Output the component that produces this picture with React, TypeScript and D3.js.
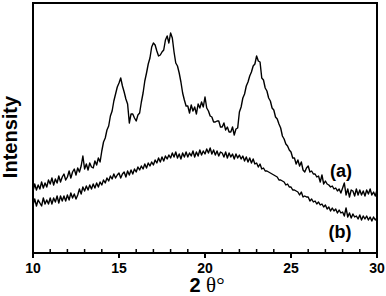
import React from "react";
import * as d3 from "d3";

// 2θ from 10 to 30 in 0.1° steps
const xStart = 10;
const xStep = 0.1;

const seriesA: number[] = [
  62, 69, 63, 68, 64, 71, 65, 70, 66, 73,
  69, 75, 68, 74, 70, 77, 71, 76, 79, 73,
  76, 82, 75, 81, 84, 78, 85, 81, 87, 97,
  84, 89, 83, 90, 86, 85, 92, 88, 95, 91,
  102, 111, 115, 123, 127, 137, 142, 152, 159, 166,
  170, 175, 167, 161, 154, 149, 130, 139, 139, 135,
  132, 138, 140, 151, 160, 172, 180, 189, 195, 206,
  210, 208, 202, 197, 198, 201, 203, 213, 217, 210,
  220, 215, 201, 190, 187, 180, 171, 160, 153, 147,
  147, 140, 148, 142, 146, 139, 149, 145, 151, 146,
  156, 145, 142, 137, 136, 131, 131, 132, 132, 126,
  126, 130, 123, 126, 121, 121, 126, 118, 124, 125,
  141, 146, 155, 159, 167, 171, 177, 181, 187, 189,
  197, 192, 191, 175, 173, 165, 162, 155, 152, 145,
  143, 136, 134, 129, 125, 117, 114, 109, 107, 103,
  101, 95, 95, 89, 93, 87, 91, 83, 81, 85,
  87, 81, 82, 79, 79, 76, 77, 71, 78, 69,
  72, 69, 68, 66, 67, 64, 65, 62, 64, 60,
  65, 70, 58, 64, 56, 63, 62, 57, 64, 58,
  63, 58, 62, 57, 63, 59, 64, 58, 61, 57,
  63,
];

const seriesB: number[] = [
  48, 54, 47, 53, 50, 47, 55, 49, 53, 49,
  55, 49, 55, 51, 57, 50, 57, 52, 57, 52,
  58, 53, 60, 55, 59, 54, 58, 64, 59, 66,
  62, 67, 63, 68, 64, 69, 65, 70, 66, 71,
  68, 73, 70, 75, 72, 77, 74, 79, 75, 78,
  80, 75, 79, 81, 76, 82, 78, 83, 79, 84,
  81, 86, 83, 87, 84, 89, 85, 90, 87, 91,
  88, 93, 90, 95, 91, 96, 92, 97, 94, 98,
  95, 100, 96, 101, 95, 99, 94, 100, 96, 101,
  96, 100, 97, 102, 96, 101, 97, 103, 98, 102,
  99, 104, 100, 105, 99, 103, 98, 102, 97, 101,
  100, 96, 101, 95, 100, 96, 99, 94, 99, 95,
  98, 94, 97, 92, 96, 91, 95, 90, 94, 89,
  90, 86, 89, 84, 85, 82, 82, 81, 80, 79,
  78, 77, 76, 73, 73, 72, 71, 68, 69, 66,
  66, 63, 63, 62, 61, 58, 61, 56, 57, 56,
  56, 52, 54, 51, 52, 49, 51, 48, 49, 46,
  48, 44, 46, 42, 45, 42, 44, 40, 43, 40,
  41, 37, 45, 36, 40, 35, 39, 36, 37, 34,
  38, 33, 37, 34, 37, 33, 36, 32, 36, 33,
  35,
];

const majorTicks = [10, 15, 20, 25, 30];
const minorTicks = d3.range(11, 30).filter((v) => v % 5 !== 0);

const W = 386;
const H = 296;
const left = 33;
const right = 377;
const top = 3;
const bottom = 253;

export default function App() {
  const x = d3.scaleLinear().domain([10, 30]).range([left, right]);
  const y = d3.scaleLinear().domain([0, 250]).range([bottom, top]);
  const line = d3
    .line<number>()
    .x((_, i) => x(xStart + i * xStep))
    .y((d) => y(d));

  return (
    <svg
      width={W}
      height={H}
      style={{ position: "absolute", left: 0, top: 0, background: "#fff" }}
      fontFamily="'Liberation Sans', Arial, sans-serif"
    >
      <rect x={0} y={0} width={W} height={H} fill="#fff" />
      <path d={line(seriesA) || ""} fill="none" stroke="#000" strokeWidth={1.4} strokeLinejoin="round" />
      <path d={line(seriesB) || ""} fill="none" stroke="#000" strokeWidth={1.4} strokeLinejoin="round" />
      <rect x={left} y={top} width={right - left} height={bottom - top} fill="none" stroke="#000" strokeWidth={2} />
      {majorTicks.map((t) => (
        <g key={t}>
          <line x1={x(t)} x2={x(t)} y1={bottom} y2={bottom + 5} stroke="#000" strokeWidth={2} />
          <text x={x(t)} y={273} textAnchor="middle" fontSize={14} fontWeight="bold">
            {t}
          </text>
        </g>
      ))}
      {minorTicks.map((t) => (
        <line key={t} x1={x(t)} x2={x(t)} y1={bottom} y2={bottom - 4} stroke="#000" strokeWidth={1.5} />
      ))}
      <text x={207} y={292} textAnchor="middle" fontSize={20}>
        <tspan fontWeight="bold">2 </tspan>
        <tspan fontFamily="'Liberation Serif', 'Times New Roman', serif" fontSize={21}>θ</tspan>
        <tspan fontFamily="'Liberation Serif', 'Times New Roman', serif" fontSize={21}>°</tspan>
      </text>
      <text
        transform="translate(17,137) rotate(-90)"
        textAnchor="middle"
        fontSize={20}
        fontWeight="bold"
      >
        Intensity
      </text>
      <text x={341} y={177} textAnchor="middle" fontSize={18} fontWeight="bold">
        (a)
      </text>
      <text x={340} y={238} textAnchor="middle" fontSize={18} fontWeight="bold">
        (b)
      </text>
    </svg>
  );
}
